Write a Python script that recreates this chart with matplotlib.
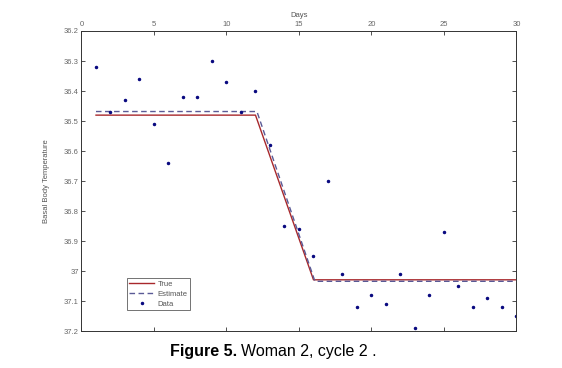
import matplotlib
matplotlib.use("Agg")
import matplotlib.pyplot as plt
import numpy as np

# ---- data ----
days = list(range(1, 31))
temps = [36.32, 36.47, 36.43, 36.36, 36.51, 36.64, 36.42, 36.42, 36.30, 36.37,
         36.47, 36.40, 36.58, 36.85, 36.86, 36.95, 36.70, 37.01, 37.12, 37.08,
         37.11, 37.01, 37.19, 37.08, 36.87, 37.05, 37.12, 37.09, 37.12, 37.15]

true_x = [1, 12, 16, 30]
true_y = [36.48, 36.48, 37.028, 37.028]
est_x = [1, 12.1, 16.1, 30]
est_y = [36.468, 36.468, 37.033, 37.033]

xticks = [0, 5, 10, 15, 20, 25, 30]
yticks = [36.2, 36.3, 36.4, 36.5, 36.6, 36.7, 36.8, 36.9, 37.0, 37.1, 37.2]
ytick_labels = ["36.2", "36.3", "36.4", "36.5", "36.6", "36.7", "36.8", "36.9", "37", "37.1", "37.2"]

plt.rcParams['font.family'] = ['Liberation Sans', 'DejaVu Sans']

fig = plt.figure(figsize=(5.62, 3.68), dpi=100)
ax = fig.add_axes([0.145, 0.0992, 0.774, 0.8166])

ax.plot(true_x, true_y, color='#a8282c', lw=1.0, label='True')
ax.plot(est_x, est_y, color='#5a5a96', lw=1.0, ls=(0, (4, 2.5)), label='Estimate')
ax.plot(days, temps, ls='none', marker='.', ms=3.0, color='#0a0a80', label='Data')

ax.set_xlim(0, 30)
ax.set_ylim(36.2, 37.2)
ax.invert_yaxis()
ax.set_xticks(xticks)
ax.set_yticks(yticks)
ax.set_yticklabels(ytick_labels)
ax.xaxis.tick_top()
ax.xaxis.set_label_position('top')
ax.tick_params(axis='both', which='both', direction='in', length=3, width=0.6,
               labelsize=5.5, labelcolor='#666666', color='#333333',
               top=True, bottom=True, left=True, right=True, pad=2)
ax.set_xlabel('Days', fontsize=5.5, color='#555555', labelpad=3)
ax.set_ylabel('Basal Body Temperature', fontsize=5.5, color='#555555', labelpad=10)
for s in ax.spines.values():
    s.set_color('#333333')
    s.set_linewidth(0.7)

leg = ax.legend(loc='lower left', bbox_to_anchor=(0.104, 0.07), fontsize=5.5,
                frameon=True, fancybox=False, edgecolor='#333333',
                handlelength=3.2, borderpad=0.35, labelspacing=0.35,
                handletextpad=0.5, borderaxespad=0)
leg.get_frame().set_linewidth(0.6)
for t in leg.get_texts():
    t.set_color('#555555')

# caption
t1 = fig.text(170 / 562, 1 - 356 / 368, 'Figure 5.', fontsize=11.5, fontweight='bold',
              ha='left', va='baseline', color='black')
fig.canvas.draw()
bb = t1.get_window_extent(renderer=fig.canvas.get_renderer())
fig.text((bb.x1 + 4) / 562, 1 - 356 / 368, 'Woman 2, cycle 2 .', fontsize=11.5,
         ha='left', va='baseline', color='black')

fig.savefig('out.png', dpi=100)
